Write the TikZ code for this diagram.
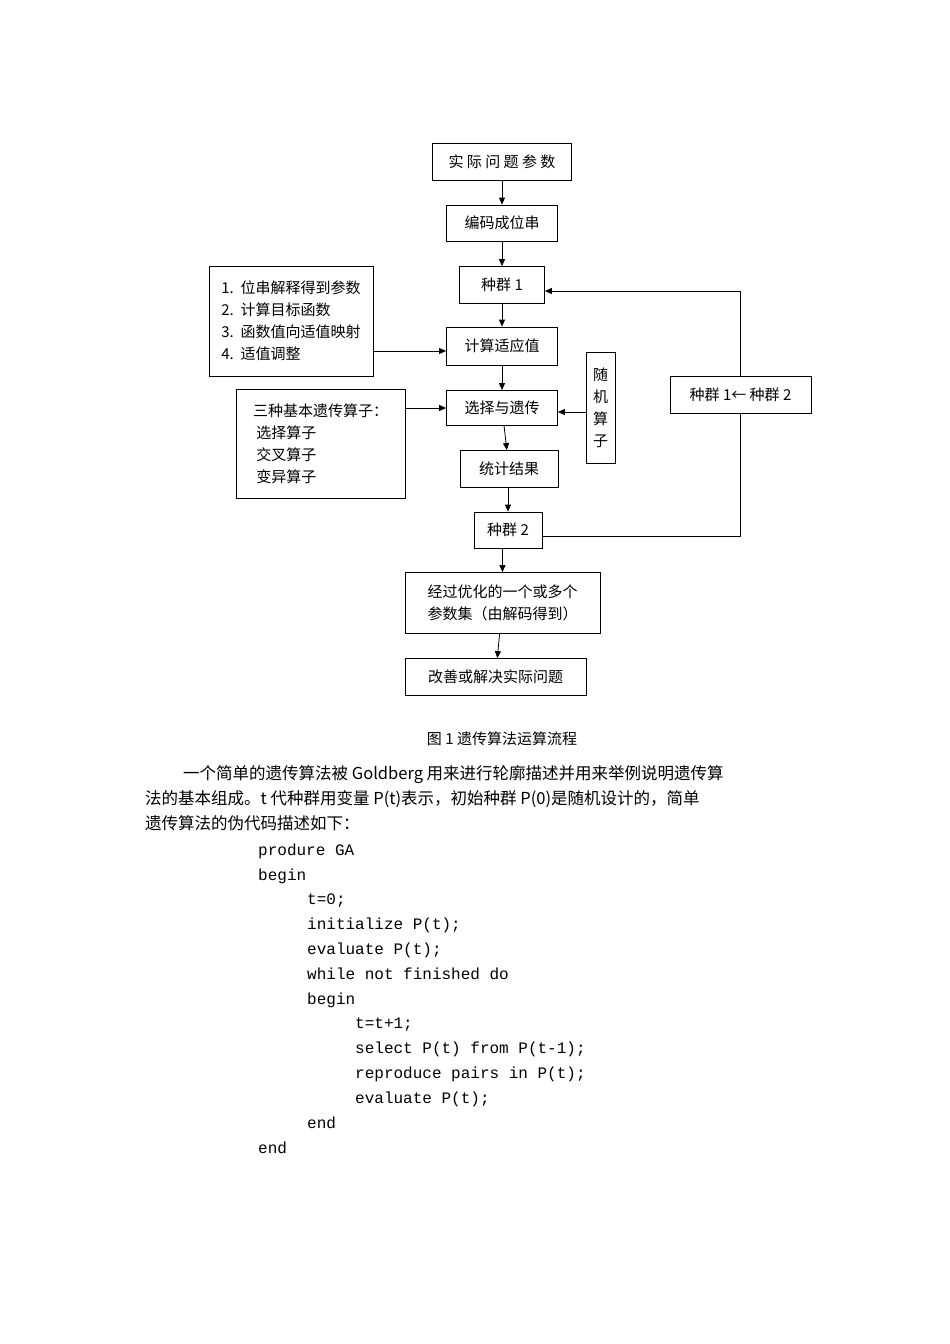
\documentclass[tikz,border=0pt]{standalone}
\usepackage{fontspec}
\setmainfont{Noto Sans CJK SC}
\newfontfamily\codef{Liberation Mono}
\usetikzlibrary{arrows.meta}
\begin{document}
\begin{tikzpicture}[x=1pt,y=-1pt,
  box/.style={draw,line width=0.8pt,inner sep=0pt,font=\fontsize{15}{18}\selectfont},
  arr/.style={-{Triangle[length=7pt,width=6pt]},line width=0.8pt},
  code/.style={anchor=base west,inner sep=0pt,font=\codef\fontsize{16}{18}\selectfont},
  para/.style={anchor=base west,inner sep=0pt,font=\fontsize{16.5}{18}\selectfont}]
\useasboundingbox (0,0) rectangle (950,1344);
\node[box,minimum width=139pt,minimum height=37pt] (b1) at (502,162) {实 际 问 题 参 数};
\node[box,minimum width=111pt,minimum height=36pt] (b2) at (502,223) {编码成位串};
\node[box,minimum width=85pt,minimum height=37pt] (b3) at (502,285) {种群 1};
\node[box,minimum width=111pt,minimum height=38pt] (b4) at (502,346) {计算适应值};
\node[box,minimum width=111pt,minimum height=35pt] (b5) at (502,408) {选择与遗传};
\node[box,minimum width=98pt,minimum height=37pt] (b6) at (509,469) {统计结果};
\node[box,minimum width=68pt,minimum height=36pt] (b7) at (508,530) {种群 2};
\node[box,minimum width=195pt,minimum height=61pt,align=left] (b8) at (502.5,603) {经过优化的一个或多个\\[4pt]参数集（由解码得到）};
\node[box,minimum width=181pt,minimum height=37pt] (b9) at (495.5,677) {改善或解决实际问题};
\node[box,minimum width=164pt,minimum height=110pt,align=left] (l1) at (291,321) {1.\ \ 位串解释得到参数\\[4pt]2.\ \ 计算目标函数\\[4pt]3.\ \ 函数值向适值映射\\[4pt]4.\ \ 适值调整};
\node[box,minimum width=169pt,minimum height=109pt,align=left] (l2) at (320.5,443.5) {三种基本遗传算子：\\[4pt]\ 选择算子\\[4pt]\ 交叉算子\\[4pt]\ 变异算子};
\node[box,minimum width=29pt,minimum height=111pt,align=center] (r) at (600.5,407.5) {随\\[4pt]机\\[4pt]算\\[4pt]子};
\node[box,minimum width=141pt,minimum height=37pt] (sw) at (740.5,394.5) {种群 1← 种群 2};
\foreach \a/\b in {b1/b2,b2/b3,b3/b4,b4/b5,b5/b6,b8/b9} \draw[arr] (\a) -- (\b);
\draw[arr] (b6.south -| b7) -- (b7);
\draw[arr] (b7.south -| b8) -- (b8);
\draw[arr] (l1.east |- 0,351) -- (b4.west |- 0,351);
\draw[arr] (l2.east |- b5) -- (b5);
\draw[arr] (r.west |- 0,412) -- (b5.east |- 0,412);
\draw[line width=0.8pt] (b7.east |- 0,536) -| (sw.south);
\draw[arr] (sw.north) |- (b3.east |- 0,291);
\node[font=\fontsize{15}{18}\selectfont] (cap) at (502,739) {图 1\ 遗传算法运算流程};
\node[para] (p1) at (183,779) {一个简单的遗传算法被 Goldberg 用来进行轮廓描述并用来举例说明遗传算};
\node[para] (p2) at (145,804) {法的基本组成。t 代种群用变量 P(t)表示，初始种群 P(0)是随机设计的，简单};
\node[para] (p3) at (145,829) {遗传算法的伪代码描述如下：};
\node[code] at (258,855) {produre GA};
\node[code] at (258,880) {begin};
\node[code] at (307,904) {t=0;};
\node[code] at (307,929) {initialize P(t);};
\node[code] at (307,954) {evaluate P(t);};
\node[code] at (307,979) {while not finished do};
\node[code] at (307,1004) {begin};
\node[code] at (355,1028) {t=t+1;};
\node[code] at (355,1053) {select P(t) from P(t-1);};
\node[code] at (355,1078) {reproduce pairs in P(t);};
\node[code] at (355,1103) {evaluate P(t);};
\node[code] at (307,1128) {end};
\node[code] at (258,1153) {end};
\end{tikzpicture}
\end{document}
